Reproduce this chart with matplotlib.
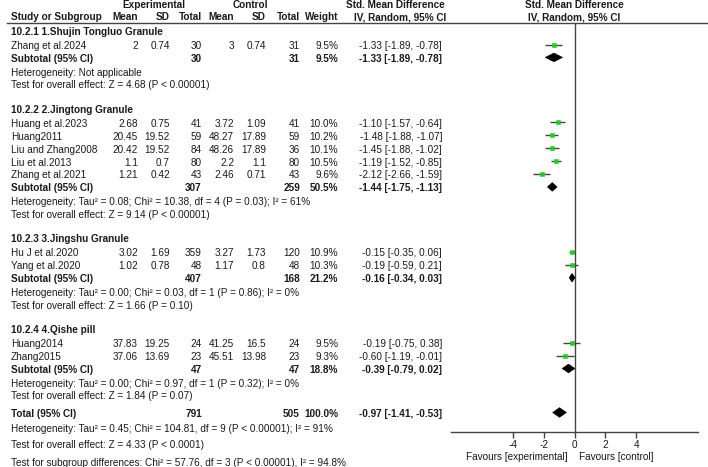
import matplotlib
matplotlib.use("Agg")
import matplotlib.pyplot as plt
from matplotlib.patches import Polygon
from matplotlib import font_manager

_names = {f.name for f in font_manager.fontManager.ttflist}
_fam = 'Liberation Sans Narrow' if 'Liberation Sans Narrow' in _names else 'Liberation Sans'
plt.rcParams['font.family'] = [_fam, 'DejaVu Sans']
plt.rcParams['axes.unicode_minus'] = False

# ---------------- data ----------------
group_names = ["10.2.1 1.Shujin Tongluo Granule", "10.2.2 2.Jingtong Granule",
               "10.2.3 3.Jingshu Granule", "10.2.4 4.Qishe pill"]
study_group = [0, 1, 1, 1, 1, 1, 2, 2, 3, 3]
study_names = ["Zhang et al.2024", "Huang et al.2023", "Huang2011", "Liu and Zhang2008",
               "Liu et al.2013", "Zhang et al.2021", "Hu J et al.2020", "Yang et al.2020",
               "Huang2014", "Zhang2015"]
exp_mean = ["2", "2.68", "20.45", "20.42", "1.1", "1.21", "3.02", "1.02", "37.83", "37.06"]
exp_sd = ["0.74", "0.75", "19.52", "19.52", "0.7", "0.42", "1.69", "0.78", "19.25", "13.69"]
exp_n = [30, 41, 59, 84, 80, 43, 359, 48, 24, 23]
ctl_mean = ["3", "3.72", "48.27", "48.26", "2.2", "2.46", "3.27", "1.17", "41.25", "45.51"]
ctl_sd = ["0.74", "1.09", "17.89", "17.89", "1.1", "0.71", "1.73", "0.8", "16.5", "13.98"]
ctl_n = [31, 41, 59, 36, 80, 43, 120, 48, 24, 23]
weights = [9.5, 10.0, 10.2, 10.1, 10.5, 9.6, 10.9, 10.3, 9.5, 9.3]
smd = [-1.33, -1.10, -1.48, -1.45, -1.19, -2.12, -0.15, -0.19, -0.19, -0.60]
ci_lo = [-1.89, -1.57, -1.88, -1.88, -1.52, -2.66, -0.35, -0.59, -0.75, -1.19]
ci_hi = [-0.78, -0.64, -1.07, -1.02, -0.85, -1.59, 0.06, 0.21, 0.38, -0.01]

sub_exp_n = [30, 307, 407, 47]
sub_ctl_n = [31, 259, 168, 47]
sub_weight = [9.5, 50.5, 21.2, 18.8]
sub_smd = [-1.33, -1.44, -0.16, -0.39]
sub_lo = [-1.89, -1.75, -0.34, -0.79]
sub_hi = [-0.78, -1.13, 0.03, 0.02]
sub_het = ["Heterogeneity: Not applicable",
           "Heterogeneity: Tau² = 0.08; Chi² = 10.38, df = 4 (P = 0.03); I² = 61%",
           "Heterogeneity: Tau² = 0.00; Chi² = 0.03, df = 1 (P = 0.86); I² = 0%",
           "Heterogeneity: Tau² = 0.00; Chi² = 0.97, df = 1 (P = 0.32); I² = 0%"]
sub_test = ["Test for overall effect: Z = 4.68 (P < 0.00001)",
            "Test for overall effect: Z = 9.14 (P < 0.00001)",
            "Test for overall effect: Z = 1.66 (P = 0.10)",
            "Test for overall effect: Z = 1.84 (P = 0.07)"]

total_exp_n = 791
total_ctl_n = 505
total_weight = 100.0
total_smd = -0.97
total_lo = -1.41
total_hi = -0.53
total_het = "Heterogeneity: Tau² = 0.45; Chi² = 104.81, df = 9 (P < 0.00001); I² = 91%"
total_test = "Test for overall effect: Z = 4.33 (P < 0.0001)"
subgroup_test = "Test for subgroup differences: Chi² = 57.76, df = 3 (P < 0.00001), I² = 94.8%"

xticks = [-4, -2, 0, 2, 4]
fav_left = "Favours [experimental]"
fav_right = "Favours [control]"

# ---------------- layout ----------------
W, H = 708, 467
fig = plt.figure(figsize=(W / 100, H / 100), dpi=100)
ax = fig.add_axes([0, 0, 1, 1])
ax.set_xlim(0, W)
ax.set_ylim(H, 0)
ax.axis('off')

TXT = '#1a1a1a'
FS = 8.6 if _fam.endswith('Narrow') else 7.2
X_NAME = 11
X_EM, X_ESD, X_EN = 138, 170, 202
X_CM, X_CSD, X_CN = 234, 266, 300
X_W = 338
X_CI = 442
PLOT_L, PLOT_R = 451, 698
AXIS_Y = 432
HEAD_LINE_Y = 23


def t(x, y, s, ha='left', bold=False, **kw):
    ax.text(x, y, s, ha=ha, va='center', fontsize=FS, color=TXT,
            fontweight='bold' if bold else 'normal', **kw)


# header
t(154, 5, "Experimental", ha='center', bold=True)
t(250, 5, "Control", ha='center', bold=True)
t(395, 5, "Std. Mean Difference", ha='center', bold=True)
t(574.5, 5, "Std. Mean Difference", ha='center', bold=True)
t(X_NAME, 17, "Study or Subgroup", bold=True)
for xx, s in [(X_EM, "Mean"), (X_ESD, "SD"), (X_EN, "Total"), (X_CM, "Mean"),
              (X_CSD, "SD"), (X_CN, "Total"), (X_W, "Weight")]:
    t(xx, 17, s, ha='right', bold=True)
t(400, 17, "IV, Random, 95% CI", ha='center', bold=True)
t(574.5, 17, "IV, Random, 95% CI", ha='center', bold=True)
ax.plot([7, W], [HEAD_LINE_Y, HEAD_LINE_Y], color='#444444', lw=1.0)

# forest axes (y in same pixel units)
fax = fig.add_axes([PLOT_L / W, (H - AXIS_Y) / H, (PLOT_R - PLOT_L) / W,
                    (AXIS_Y - HEAD_LINE_Y) / H])
fax.set_xlim(-8, 8)
fax.set_ylim(AXIS_Y, HEAD_LINE_Y)
fax.patch.set_alpha(0)
for sp in ['top', 'right', 'left']:
    fax.spines[sp].set_visible(False)
fax.spines['bottom'].set_color('#444444')
fax.spines['bottom'].set_linewidth(1.0)
fax.set_yticks([])
fax.set_xticks(xticks)
fax.set_xticklabels([str(v) for v in xticks])
fax.tick_params(axis='x', direction='out', length=4, width=1, color='#444444',
                pad=1.5, labelsize=FS, labelcolor=TXT)
fax.axvline(0, color='#444444', lw=1.0, zorder=1)

ax.text(568, 457, fav_left, ha='right', va='center', fontsize=FS, color=TXT)
ax.text(579, 457, fav_right, ha='left', va='center', fontsize=FS, color=TXT)

MARK_DY = -1.5


def diamond(m, lo, hi, y, h):
    fax.add_patch(Polygon([(lo, y), (m, y - h), (hi, y), (m, y + h)], closed=True,
                          facecolor='black', edgecolor='black', lw=0.5, zorder=3))


y = 32.0
for g in range(len(group_names)):
    t(X_NAME, y, group_names[g], bold=True)
    y += 14.0
    idx = [i for i, gg in enumerate(study_group) if gg == g]
    for k, i in enumerate(idx):
        if k > 0:
            y += 12.9
        t(X_NAME, y, study_names[i])
        t(X_EM, y, exp_mean[i], ha='right')
        t(X_ESD, y, exp_sd[i], ha='right')
        t(X_EN, y, str(exp_n[i]), ha='right')
        t(X_CM, y, ctl_mean[i], ha='right')
        t(X_CSD, y, ctl_sd[i], ha='right')
        t(X_CN, y, str(ctl_n[i]), ha='right')
        t(X_W, y, f"{weights[i]:.1f}%", ha='right')
        t(X_CI, y, f"{smd[i]:.2f} [{ci_lo[i]:.2f}, {ci_hi[i]:.2f}]", ha='right')
        fax.plot([ci_lo[i], ci_hi[i]], [y + MARK_DY, y + MARK_DY], color='#444444',
                 lw=1.0, zorder=2, solid_capstyle='butt')
        fax.plot([smd[i]], [y + MARK_DY], marker='s', ms=0.24 * weights[i], mew=0.4,
                 color='#22cc22', mec='#22cc22', zorder=3, linestyle='none')
    y += 12.9
    t(X_NAME, y, "Subtotal (95% CI)", bold=True)
    t(X_EN, y, str(sub_exp_n[g]), ha='right', bold=True)
    t(X_CN, y, str(sub_ctl_n[g]), ha='right', bold=True)
    t(X_W, y, f"{sub_weight[g]:.1f}%", ha='right', bold=True)
    t(X_CI, y, f"{sub_smd[g]:.2f} [{sub_lo[g]:.2f}, {sub_hi[g]:.2f}]", ha='right', bold=True)
    diamond(sub_smd[g], sub_lo[g], sub_hi[g], y + MARK_DY, 4.3)
    y += 14.0
    t(X_NAME, y, sub_het[g])
    y += 12.5
    t(X_NAME, y, sub_test[g])
    y += 24.5

# total
y_tot = 414
t(X_NAME, y_tot, "Total (95% CI)", bold=True)
t(X_EN, y_tot, str(total_exp_n), ha='right', bold=True)
t(X_CN, y_tot, str(total_ctl_n), ha='right', bold=True)
t(X_W, y_tot, f"{total_weight:.1f}%", ha='right', bold=True)
t(X_CI, y_tot, f"{total_smd:.2f} [{total_lo:.2f}, {total_hi:.2f}]", ha='right', bold=True)
diamond(total_smd, total_lo, total_hi, y_tot + MARK_DY, 4.8)
t(X_NAME, 429, total_het)
t(X_NAME, 445, total_test)
t(X_NAME, 463, subgroup_test)

fig.savefig("out.png", dpi=100)
